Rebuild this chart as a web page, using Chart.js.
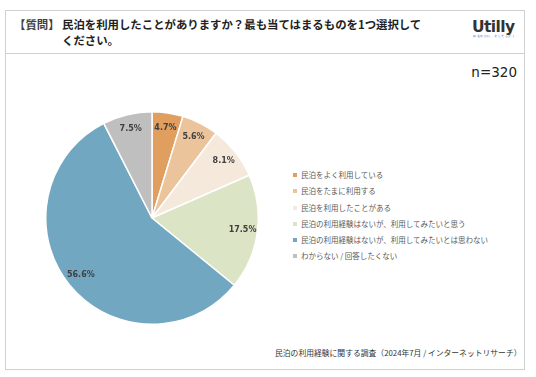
<!DOCTYPE html>
<html lang="ja">
<head>
    <meta charset="UTF-8">
    <title>民泊の利用経験</title>
    <script src="https://cdn.jsdelivr.net/npm/chart.js"></script>
    <style>
        body {
            margin: 0;
            width: 536px;
            height: 377px;
            background: #fff;
            font-family: 'Noto Sans CJK JP', 'DejaVu Sans', sans-serif;
            position: relative;
            overflow: hidden;
        }
        .frame {
            position: absolute;
            left: 5px;
            top: 10px;
            width: 518px;
            height: 358px;
            border: 1px solid #d0d0d0;
        }
        .header-line {
            position: absolute;
            left: 5px;
            top: 53px;
            width: 519px;
            border-top: 1px solid #d0d0d0;
        }
        .q-tag {
            position: absolute;
            left: 14px;
            top: 16px;
            font-size: 11.4px;
            font-weight: bold;
            color: #404040;
        }
        .title {
            position: absolute;
            left: 62px;
            top: 16px;
            font-size: 11.4px;
            font-weight: bold;
            line-height: 16px;
            color: #222;
            white-space: nowrap;
        }
        .logo {
            position: absolute;
            left: 472px;
            top: 18px;
            font-family: 'DejaVu Sans', sans-serif;
            font-size: 15.5px;
            font-weight: bold;
            color: #333;
            letter-spacing: -0.6px;
        }
        .logo small {
            display: block;
            font-size: 3px;
            color: #5b8fd8;
            letter-spacing: 0.5px;
            margin-top: -2px;
            margin-left: 1px;
        }
        .n-label {
            position: absolute;
            right: 19px;
            top: 64px;
            font-family: 'DejaVu Sans', sans-serif;
            font-size: 13.5px;
            color: #222;
        }
        .pie-box {
            position: absolute;
            left: 45px;
            top: 111px;
            width: 214px;
            height: 214px;
        }
        .legend {
            position: absolute;
            left: 293px;
            top: 168px;
            margin: 0;
            padding: 0;
            list-style: none;
            font-size: 7.5px;
            color: #595959;
        }
        .legend li {
            height: 16.3px;
            line-height: 14px;
            white-space: nowrap;
        }
        .legend span {
            display: inline-block;
            width: 4px;
            height: 4px;
            margin-right: 4px;
            vertical-align: 1px;
        }
        .source {
            position: absolute;
            left: 275px;
            top: 347px;
            font-size: 7.8px;
            color: #333;
            white-space: nowrap;
        }
    </style>
</head>
<body>
    <div class="frame"></div>
    <div class="header-line"></div>
    <div class="q-tag">【質問】</div>
    <div class="title">民泊を利用したことがありますか？最も当てはまるものを1つ選択して<br>ください。</div>
    <div class="logo">Utilly<small>ゆるやかに、そしてふかく</small></div>
    <div class="n-label">n=320</div>

    <div class="pie-box">
        <canvas id="pieChart"></canvas>
    </div>
    <ul class="legend" id="legend"></ul>

    <div class="source">民泊の利用経験に関する調査（2024年7月 / インターネットリサーチ）</div>

    <script>
        // Data
        const categories = [
            '民泊をよく利用している',
            '民泊をたまに利用する',
            '民泊を利用したことがある',
            '民泊の利用経験はないが、利用してみたいと思う',
            '民泊の利用経験はないが、利用してみたいとは思わない',
            'わからない / 回答したくない'
        ];
        const shares = [4.7, 5.6, 8.1, 17.5, 56.6, 7.5];
        const sliceColors = ['#e09e5f', '#ebc49b', '#f5e9dc', '#dce4c6', '#72a7c1', '#bfbfbf'];

        // Legend built from the same arrays
        const legend = document.getElementById('legend');
        categories.forEach((name, i) => {
            const li = document.createElement('li');
            li.innerHTML = '<span style="background:' + sliceColors[i] + '"></span>' + name;
            legend.appendChild(li);
        });

        // Percent labels inside slices
        const pctLabels = {
            id: 'pctLabels',
            afterDatasetsDraw(chart) {
                const ctx = chart.ctx;
                const meta = chart.getDatasetMeta(0);
                ctx.save();
                ctx.font = 'bold 8px "DejaVu Sans", sans-serif';
                ctx.fillStyle = '#404040';
                ctx.textAlign = 'center';
                ctx.textBaseline = 'middle';
                meta.data.forEach((arc, i) => {
                    const mid = (arc.startAngle + arc.endAngle) / 2;
                    const r = arc.outerRadius * 0.86;
                    ctx.fillText(shares[i].toFixed(1) + '%', arc.x + Math.cos(mid) * r, arc.y + Math.sin(mid) * r);
                });
                ctx.restore();
            }
        };

        const pieChart = new Chart(document.getElementById('pieChart'), {
            type: 'pie',
            data: {
                labels: categories,
                datasets: [{
                    data: shares,
                    backgroundColor: sliceColors,
                    borderColor: '#ffffff',
                    borderWidth: 1.5
                }]
            },
            options: {
                responsive: true,
                maintainAspectRatio: false,
                animation: false,
                plugins: {
                    legend: { display: false },
                    tooltip: { enabled: false }
                }
            },
            plugins: [pctLabels]
        });
    </script>
</body>
</html>
